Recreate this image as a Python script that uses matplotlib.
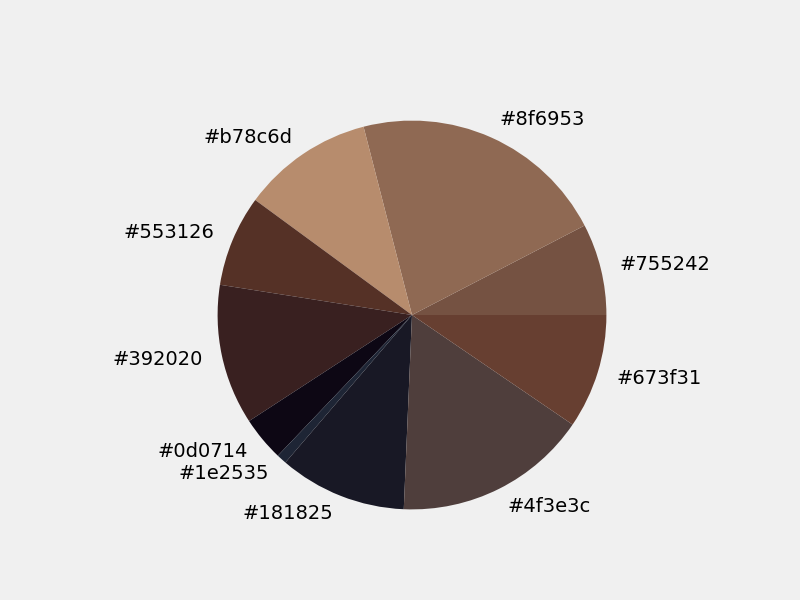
import matplotlib
matplotlib.use("Agg")
import matplotlib.pyplot as plt

plt.style.use("fivethirtyeight")

# colour counts (degrees of the full circle)
labels = ["#755242", "#8f6953", "#b78c6d", "#553126", "#392020",
          "#0d0714", "#1e2535", "#181825", "#4f3e3c", "#673f31"]
sizes = [27.4, 77.0, 39.3, 27.3, 42.0, 13.3, 3.0, 38.2, 58.1, 34.3]

fig, ax = plt.subplots(figsize=(8, 6), dpi=100)
ax.pie(sizes, labels=labels, colors=labels)
fig.savefig("out.png", dpi=100, facecolor=fig.get_facecolor())
